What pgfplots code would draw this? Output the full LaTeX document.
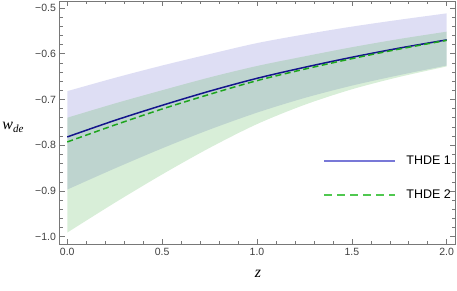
\documentclass[border=0pt]{standalone}
\usepackage{fontspec}
\setmainfont{Liberation Sans}
\newfontfamily\seriffont{Liberation Serif}
\usepackage{pgfplots}
\usepackage{pgfplotstable}
\pgfplotsset{compat=1.18}
\usepgfplotslibrary{fillbetween}

\definecolor{bandblue}{RGB}{92,92,199}
\definecolor{bandgreen}{RGB}{76,178,76}
\definecolor{lineblue}{RGB}{20,20,140}
\definecolor{linegreen}{RGB}{30,165,30}
\definecolor{legblue}{RGB}{120,120,215}
\definecolor{leggreen}{RGB}{80,200,80}
\definecolor{tickgray}{RGB}{120,120,120}

\pgfplotstableread{
z    bup     blo     gup     glo     thdeA   thdeB
0.00 -0.682 -0.897 -0.740 -0.991 -0.782 -0.793
0.25 -0.653 -0.851 -0.709 -0.926 -0.746 -0.756
0.50 -0.626 -0.807 -0.680 -0.864 -0.713 -0.721
0.75 -0.601 -0.766 -0.652 -0.806 -0.682 -0.689
1.00 -0.577 -0.729 -0.627 -0.754 -0.654 -0.659
1.25 -0.558 -0.697 -0.606 -0.712 -0.630 -0.634
1.50 -0.541 -0.670 -0.586 -0.678 -0.608 -0.611
1.75 -0.526 -0.647 -0.568 -0.651 -0.588 -0.590
2.00 -0.512 -0.626 -0.552 -0.628 -0.570 -0.571
}\data

\begin{document}
\begin{tikzpicture}
\begin{axis}[
  name=ax,
  scale only axis,
  width=395.5pt, height=243pt,
  xmin=-0.041, xmax=2.044,
  ymin=-1.016, ymax=-0.485,
  xtick={0,0.5,1,1.5,2},
  xticklabels={0.0,0.5,1.0,1.5,2.0},
  ytick={-1,-0.9,-0.8,-0.7,-0.6,-0.5},
  yticklabels={−1.0,−0.9,−0.8,−0.7,−0.6,−0.5},
  minor x tick num=4,
  minor y tick num=4,
  xtick pos=both, ytick pos=both,
  tick align=inside,
  major tick length=5pt,
  minor tick length=3pt,
  axis line style={tickgray, line width=0.6pt},
  every tick/.style={tickgray, line width=0.5pt},
  tick label style={font=\fontsize{10.5}{12}\selectfont, text=black!75},
  xticklabel style={yshift=-1pt},
  every axis y label/.style={at={(axis description cs:-0.1176,0.481)}, anchor=center},
  every axis x label/.style={at={(axis description cs:0.502,-0.123)}, anchor=center},
  ylabel={\seriffont\fontsize{16}{17}\selectfont\itshape w\raisebox{-3pt}{\fontsize{11}{12}\selectfont de}},
  xlabel={\seriffont\fontsize{16}{17}\selectfont\itshape z},
  legend style={draw=none, fill=none, at={(axis description cs:0.659,0.379)}, anchor=north west,
    font=\fontsize{12.5}{14}\selectfont, row sep=20pt},
  legend cell align=left,
]
\addplot[draw=none, name path=bu, forget plot, smooth] table[x=z, y=bup] {\data};
\addplot[draw=none, name path=bl, forget plot, smooth] table[x=z, y=blo] {\data};
\addplot[fill=bandblue, fill opacity=0.2, draw=none, forget plot] fill between[of=bu and bl];
\addplot[draw=none, name path=gu, forget plot, smooth] table[x=z, y=gup] {\data};
\addplot[draw=none, name path=gl, forget plot, smooth] table[x=z, y=glo] {\data};
\addplot[fill=bandgreen, fill opacity=0.22, draw=none, forget plot] fill between[of=gu and gl];
\addplot[lineblue, line width=1.5pt, smooth, forget plot] table[x=z, y=thdeA] {\data};
\addplot[linegreen, line width=1.5pt, dash pattern=on 6pt off 3.5pt, smooth, forget plot] table[x=z, y=thdeB] {\data};
\addlegendimage{legend image code/.code={\draw[legblue, line width=1.6pt] (0pt,0pt) -- (71pt,0pt); \path (80pt,0pt);}}
\addlegendentry{THDE 1}
\addlegendimage{legend image code/.code={\draw[draw=leggreen, line width=1.8pt, dash pattern=on 8pt off 5pt] (0pt,0pt) -- (71pt,0pt); \path (80pt,0pt);}}
\addlegendentry{THDE 2}
\end{axis}
\pgfresetboundingbox
\path ([xshift=-59.5pt,yshift=-46pt]ax.south west) rectangle ([xshift=2pt,yshift=1pt]ax.north east);
\end{tikzpicture}
\end{document}
